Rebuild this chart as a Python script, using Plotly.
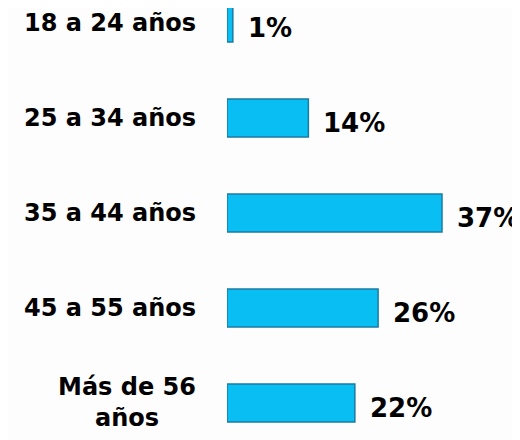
import plotly.graph_objects as go

categories = ["18 a 24 años", "25 a 34 años", "35 a 44 años", "45 a 55 años", "Más de 56<br>años"]
values = [1, 14, 37, 26, 22]

fig = go.Figure()

fig.add_trace(
    go.Bar(
        x=values,
        y=categories,
        orientation="h",
        width=0.4,
        marker=dict(
            color="#08BEF2",
            line=dict(color="#1B7BA3", width=1.5)
        ),
        hoverinfo="skip"
    )
)

# category labels, right-aligned block with centered lines
for cat in categories:
    fig.add_annotation(
        x=0.366,
        xref="paper",
        y=cat,
        yref="y",
        text=cat,
        showarrow=False,
        xanchor="right",
        align="center",
        font=dict(family="DejaVu Sans", size=24, color="black", weight="bold")
    )

# value labels, a bit right of and below each bar end
for cat, v in zip(categories, values):
    fig.add_annotation(
        x=v,
        y=cat,
        text=f"{v}%",
        showarrow=False,
        xanchor="left",
        xshift=13,
        yshift=-5,
        font=dict(family="DejaVu Sans", size=26, color="black", weight="bold")
    )

fig.add_shape(
    type="line", xref="paper", yref="paper",
    x0=0.976, x1=0.976, y0=0, y1=1,
    line=dict(color="#d0d0d0", width=3)
)

fig.update_layout(
    width=520,
    height=440,
    margin=dict(l=0, r=0, t=0, b=0),
    paper_bgcolor="#fdfdfd",
    plot_bgcolor="#fdfdfd",
    showlegend=False,
    xaxis=dict(
        domain=[0.4212, 1],
        range=[0, 51.8],
        visible=False
    ),
    yaxis=dict(
        type="category",
        range=[4.474, -0.158],
        showticklabels=False,
        showgrid=False,
        zeroline=False
    )
)

fig.write_html("out.html")
